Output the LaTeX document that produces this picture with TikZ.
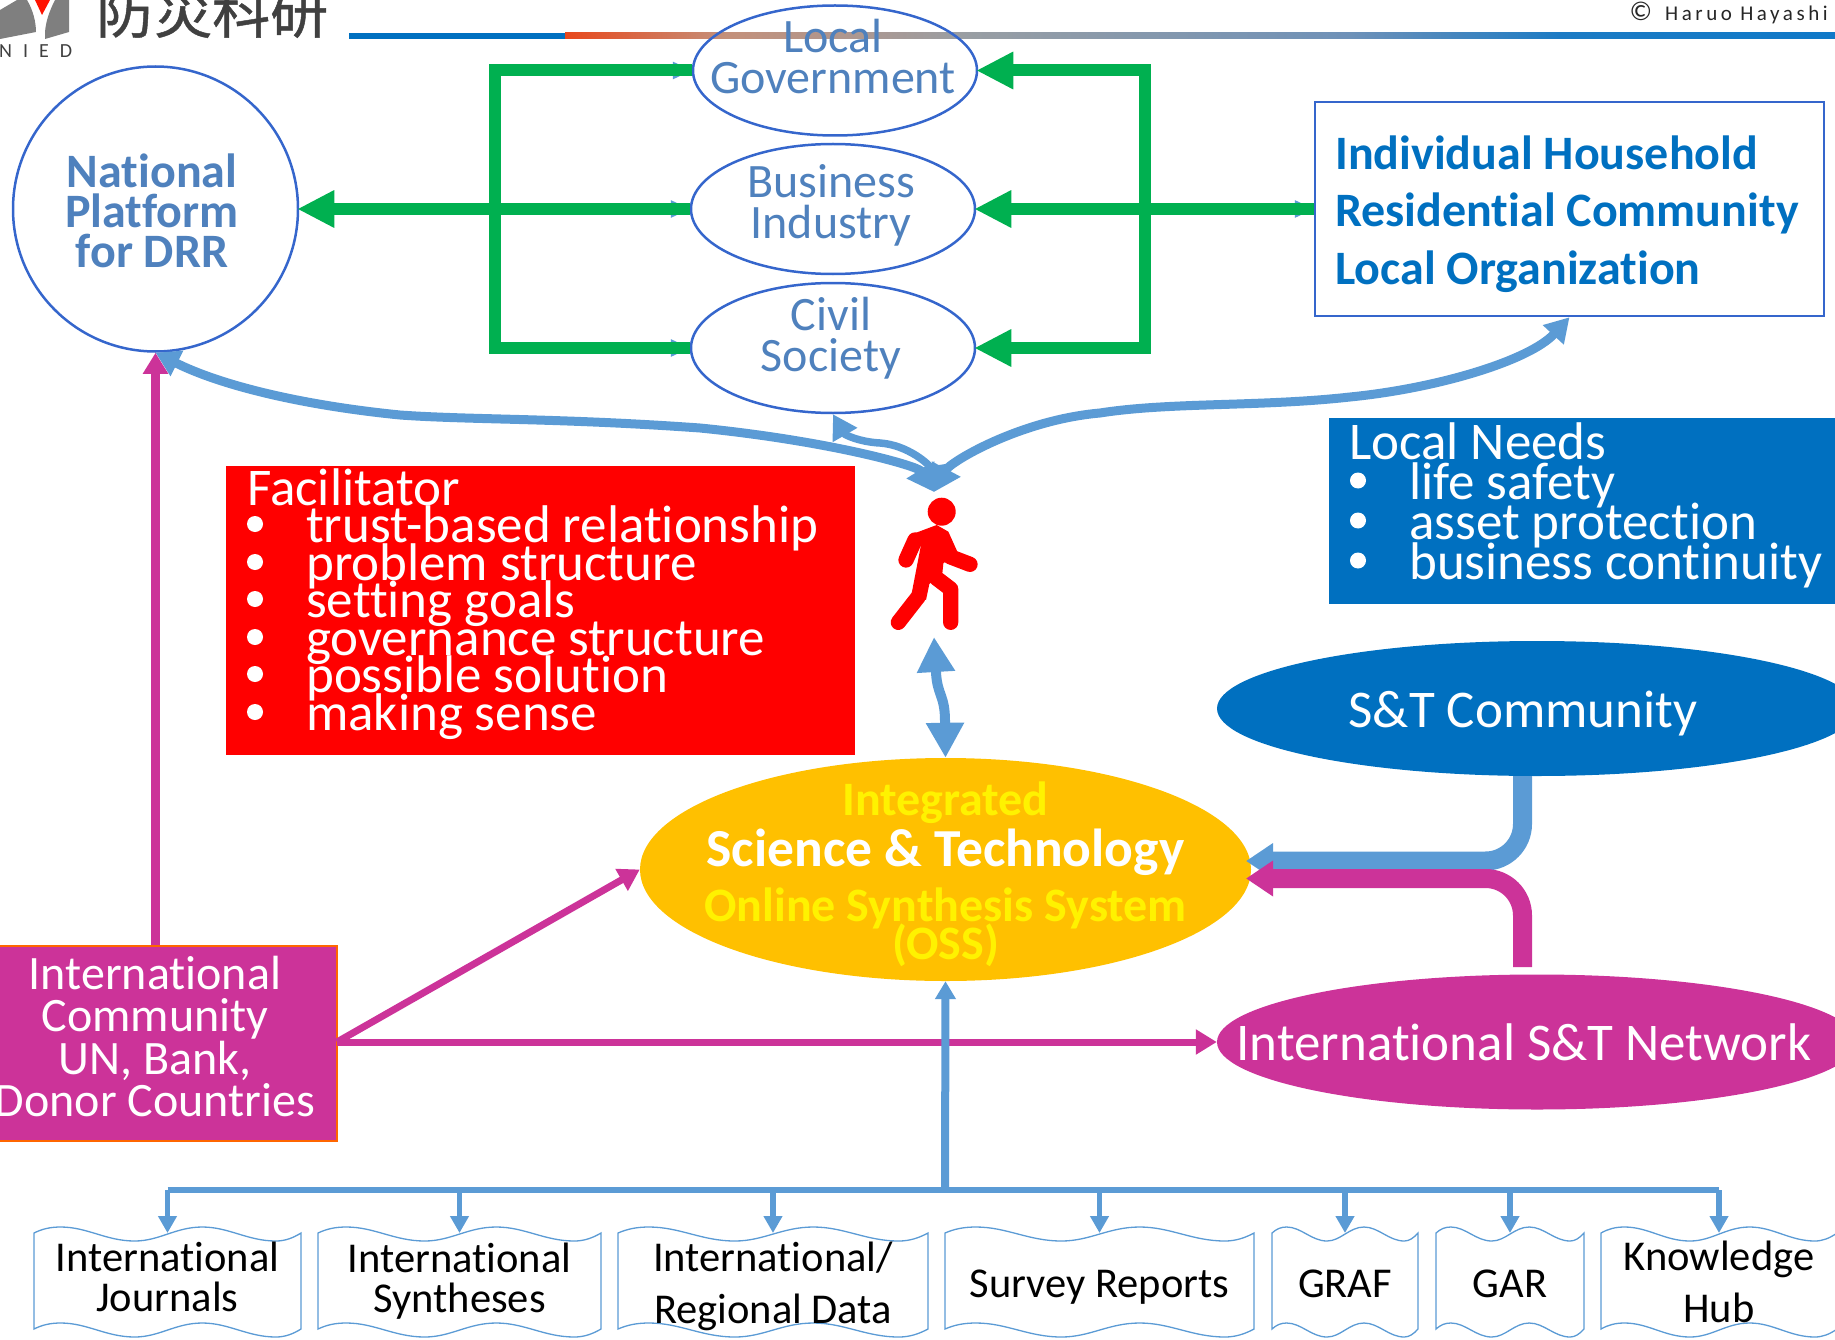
\documentclass[tikz,border=0pt]{standalone}
\usepackage{fontspec}
\usepackage{xcolor}
\setmainfont[Ligatures=NoCommon]{Carlito}
\newfontfamily\cjkfont[RawFeature={embolden=0.8}]{Noto Sans CJK JP}
\newfontfamily\creditfont[LetterSpace=17]{Carlito}
\newfontfamily\niedfont[LetterSpace=55]{Carlito}
\usetikzlibrary{shapes,arrows.meta}

\definecolor{circleblue}{HTML}{3566CC}
\definecolor{softblue}{HTML}{4F81BD}
\definecolor{deepblue}{HTML}{0070C0}
\definecolor{arrowblue}{HTML}{5B9BD5}
\definecolor{feedgreen}{HTML}{00B050}
\definecolor{magentaink}{HTML}{CC3399}
\definecolor{ossgold}{HTML}{FFC000}
\definecolor{logogray}{HTML}{7F7F7F}
\definecolor{logoink}{HTML}{404040}

\newcommand{\pxfont}[2]{\fontsize{#1}{#2}\selectfont\lineskiplimit=-200pt\relax}

\tikzset{
	actor/.style={ellipse,draw=circleblue,line width=2.5pt,inner sep=0pt,minimum width=284pt,minimum height=130pt},
	actorlabel/.style={align=center,text=softblue,font=\pxfont{48}{41}},
	listline/.style={anchor=base west,inner sep=0pt,text=white,font=\pxfont{53}{40}},
	listdot/.style={circle,fill=white,inner sep=0pt,minimum size=16pt},
	blob/.style={ellipse,inner sep=0pt,minimum width=640pt,minimum height=135pt},
	bloblabel/.style={text=white,inner sep=0pt,font=\pxfont{53}{53}},
	osslabel/.style={anchor=base,inner sep=0pt,font=\pxfont{48}{48}\bfseries},
	greenline/.style={draw=feedgreen,line width=12pt},
	greentip/.style={greenline,shorten >=-2pt,-{Triangle[length=37pt,width=35pt]}},
	greenfeed/.style={greenline,preaction={draw=arrowblue,line width=3pt,-{Triangle[length=19pt,width=17pt]}}},
	pinkline/.style={draw=magentaink,line width=7pt,-{Triangle[length=21pt,width=24pt]}},
	curveline/.style={draw=arrowblue,line width=9pt,{Triangle[length=26pt,width=31pt]}-{Triangle[length=24pt,width=27pt]}},
	thickfeed/.style={line width=19pt,rounded corners=37pt,-{Triangle[length=27pt,width=34pt]}},
	busline/.style={draw=arrowblue,line width=5.5pt},
	doctip/.style={busline,-{Triangle[length=17pt,width=18pt]}},
	doclabel/.style={inner sep=0pt,align=center}
}

\newcommand{\wavedoc}[6]{%
	\pgfmathsetmacro\wavew{#3-#2}
	\begin{scope}[shift={(#2,0)},x=\wavew pt]
		\draw[arrowblue,line width=1.3pt,fill=white] (0,1233) .. controls (.03,1229) and (.06,1227) .. (.10,1227) .. controls (.2,1227) and (.27,1241) .. (.377,1241) .. controls (.47,1241) and (.53,1227) .. (.63,1227) .. controls (.73,1227) and (.8,1241) .. (.906,1241) .. controls (.94,1241) and (.97,1238) .. (1,1233) -- (1,1329) .. controls (.97,1334) and (.94,1337) .. (.906,1337) .. controls (.8,1337) and (.73,1323) .. (.63,1323) .. controls (.53,1323) and (.47,1337) .. (.377,1337) .. controls (.27,1337) and (.2,1323) .. (.10,1323) .. controls (.06,1323) and (.03,1325) .. (0,1329) -- cycle;
	\end{scope}
	\coordinate (#1) at ({(#2+#3)/2},1233);
	\node[doclabel,font=\pxfont{42.5}{#4}] (#1label) at ({(#2+#3)/2},#5) {#6};
}

\begin{document}
\begin{tikzpicture}[x=1pt,y=-1pt]
	\useasboundingbox (0,0) rectangle (1835,1340);

	\fill[deepblue] (349,33) rectangle (565,39);
	\foreach \xa/\xb/\ca/\cb in {565/725/E8481C/C4907A,725/967/C4907A/999EA3,967/1350/999EA3/6E91B8,1350/1560/6E91B8/1C7BC4,1560/1835/1C7BC4/0F79C8}
		{
		\definecolor{bandleft}{HTML}{\ca}
		\definecolor{bandright}{HTML}{\cb}
		\shade[left color=bandleft,right color=bandright] (\xa,33) rectangle (\xb,39);
		}

	\fill[logogray] (0,10) -- (17,0) -- (27,0) .. controls (33,10) and (36,22) .. (36,32) -- (0,39) -- cycle;
	\fill[logogray] (55,0) -- (69,0) -- (69,32) -- (45,39) -- (45,32) .. controls (46,20) and (50,10) .. (55,0) -- cycle;
	\fill[red!85!orange] (35,0) -- (50,0) -- (42,15) -- cycle;
	\node[anchor=base west,inner sep=0pt,text=logoink,font=\niedfont\pxfont{20}{20}] (niedmark) at (-1,58) {NIED};
	\node[anchor=base west,inner sep=0pt,text=logoink,font=\cjkfont\pxfont{58}{58}] (niedname) at (96,33) {防災科研};
	\node[anchor=base east,inner sep=0pt,text=black!85,font=\creditfont\pxfont{21}{21}] (credit) at (1828,21) {{\pxfont{27}{27}©}\hspace{13pt}Haruo Hayashi};

	\node[circle,draw=circleblue,line width=2.5pt,inner sep=0pt,minimum size=285pt] (natl) at (155.5,209) {};
	\node[actor] (gov) at (835,70.5) {};
	\node[actor] (biz) at (833,209) {};
	\node[actor] (civ) at (833,348) {};
	\node[rectangle,draw=circleblue,line width=2.5pt,inner sep=0pt,minimum width=509pt,minimum height=214pt] (house) at (1569.5,209) {};

	\node[align=center,text=softblue,font=\pxfont{48}{40}\bfseries] (natllabel) at (152,210.5) {National\\Platform\\for DRR};
	\node[actorlabel] (govlabel) at (833,57) {Local\\Government};
	\node[actorlabel] (bizlabel) at (831,205.5) {Business\\Industry};
	\node[actorlabel] (civlabel) at (831,338.5) {Civil\\Society};
	\node[anchor=base west,inner sep=0pt,text=deepblue,font=\pxfont{48}{58}\bfseries] (houseone) at (1335,170) {Individual Household};
	\node[anchor=base west,inner sep=0pt,text=deepblue,font=\pxfont{48}{58}\bfseries] (housetwo) at (1335,227) {Residential Community};
	\node[anchor=base west,inner sep=0pt,text=deepblue,font=\pxfont{48}{58}\bfseries] (housethree) at (1335,284) {Local Organization};

	\coordinate (greenleft) at (495,209);
	\coordinate (greenright) at (1145,209);
	\draw[greenfeed] (greenleft) |- (gov.west);
	\draw[greenfeed] (greenleft) -- (biz.west);
	\draw[greenfeed] (greenleft) |- (civ.west);
	\draw[greentip] (greenleft) -- (natl.east);
	\draw[greentip] (greenright) |- (gov.east);
	\draw[greentip] (greenright) -- (biz.east);
	\draw[greentip] (greenright) |- (civ.east);
	\draw[greenfeed] (greenright) -- (house.west);

	\coordinate (forktip) at (934,492);
	\draw[curveline] (forktip) .. controls (918,466) and (830,441) .. (700,428) .. controls (560,418) and (470,420) .. (400,415) .. controls (300,405) and (220,385) .. (natl.south);
	\draw[curveline,line width=7.5pt] (forktip) .. controls (930,465) and (908,445) .. (880,443) .. controls (860,442) and (845,435) .. (civ.south);
	\draw[curveline] (forktip) .. controls (950,462) and (1020,420) .. (1100,413) .. controls (1170,402) and (1260,407) .. (1350,397) .. controls (1440,388) and (1530,360) .. (house.south);

	\node[rectangle,fill=red,inner sep=0pt,minimum width=629pt,minimum height=289pt] (facbox) at (540.5,610.5) {};
	\node[listline] (factitle) at (247,505) {Facilitator};
	\foreach \liney/\linetext [count=\n] in {542/trust-based relationship,580/problem structure,617/setting goals,655/governance structure,692/possible solution,730/making sense}
		{
		\node[listdot] (facdot\n) at (255,\liney-18) {};
		\node[listline] (facline\n) at (306,\liney) {\linetext};
		}

	\node[rectangle,fill=deepblue,inner sep=0pt,minimum width=506pt,minimum height=186pt] (needbox) at (1582,511) {};
	\node[listline] (needtitle) at (1349,459) {Local Needs};
	\foreach \liney/\linetext [count=\n] in {499/life safety,539/asset protection,579/business continuity}
		{
		\node[listdot] (needdot\n) at (1358,\liney-18.5) {};
		\node[listline] (needline\n) at (1409,\liney) {\linetext};
		}

	\fill[red] (941.7,511.7) circle (14);
	\begin{scope}[shift={(800,400)},scale=1/3]
		\fill[red] (330,405) -- (410,375) -- (445,395) -- (472,455) -- (430,490) -- (427,520) -- (388,552) -- (378,600) -- (335,580) -- (362,440) -- cycle;
		\draw[red,line width=15.3pt,line cap=round] (345,420) -- (318,480);
		\draw[red,line width=15.3pt,line cap=round] (450,470) -- (510,493);
		\draw[red,line width=15.3pt,line cap=round] (355,590) -- (295,667);
		\draw[red,line width=15.3pt,line cap=round,line join=round] (410,535) -- (452,567) -- (452,667);
	\end{scope}

	\node[ellipse,fill=ossgold,inner sep=0pt,minimum width=611pt,minimum height=223pt] (oss) at (945.5,869.5) {};
	\node[osslabel,text=yellow] (ossone) at (945.5,815) {Integrated};
	\node[osslabel,text=white,font=\pxfont{53.5}{53}\bfseries] (osstwo) at (945.5,866) {Science \& Technology};
	\node[osslabel,text=yellow] (ossthree) at (945.5,921) {Online Synthesis System};
	\node[osslabel,text=yellow] (ossfour) at (945.5,959) {(OSS)};

	\coordinate (walkfoot) at (934,637);
	\draw[arrowblue,line width=10pt,{Triangle[length=35pt,width=36pt]}-{Triangle[length=35pt,width=36pt]}] (walkfoot) -- (936,672) .. controls (937,695) and (945,695) .. (945,721) -- (oss.north);

	\coordinate (stcout) at (1522.5,770);
	\coordinate (stnout) at (1522.5,967);
	\coordinate (ossblue) at (1246,861);
	\coordinate (osspink) at (1246,878.5);
	\draw[thickfeed,draw=arrowblue] (stcout) |- (ossblue);
	\draw[thickfeed,draw=magentaink] (stnout) |- (osspink);

	\node[blob,fill=deepblue] (stc) at (1537,708.5) {};
	\node[bloblabel] (stclabel) at (1523,714) {S\&T Community};
	\node[blob,fill=magentaink] (stn) at (1537,1042) {};
	\node[bloblabel] (stnlabel) at (1524,1042) {International S\&T Network};

	\node[rectangle,fill=magentaink,draw=orange!80!red,line width=1.2pt,inner sep=0pt,minimum width=347pt,minimum height=195pt] (intl) at (163.5,1043.5) {};
	\node[align=center,inner sep=0pt,text=white,font=\pxfont{48}{42.3}] (intllabel) at (155,1036.5) {International\\Community\\UN, Bank,\\Donor Countries};
	\coordinate (intlout) at (337,1042);
	\draw[pinkline,line width=8.5pt] (intl.north -| natl.south) -- (natl.south);
	\draw[pinkline] (intlout) -- (oss.west);
	\draw[pinkline] (intlout) -- (stn.west);

	\wavedoc{docone}{34}{301}{40}{1277}{International\\Journals}
	\wavedoc{doctwo}{318}{601}{40}{1281}{International\\Syntheses}
	\wavedoc{docthree}{618}{928}{52}{1286}{International/\\Regional Data}
	\wavedoc{docfour}{945}{1254}{40}{1287}{Survey Reports}
	\wavedoc{docfive}{1272}{1418}{40}{1283.5}{GRAF}
	\wavedoc{docsix}{1436}{1584}{40}{1283.5}{GAR}
	\wavedoc{docseven}{1601}{1837}{52}{1282}{Knowledge\\Hub}

	\coordinate (busmid) at (945,1190);
	\draw[arrowblue,line width=8pt,-{Triangle[length=18pt,width=20pt]}] (busmid) -- (oss.south);
	\draw[busline] (docone |- busmid) -- (docseven |- busmid);
	\foreach \docname in {docone,doctwo,docthree,docfour,docfive,docsix,docseven}
		\draw[doctip] (\docname |- busmid) -- (\docname);
\end{tikzpicture}
\end{document}
